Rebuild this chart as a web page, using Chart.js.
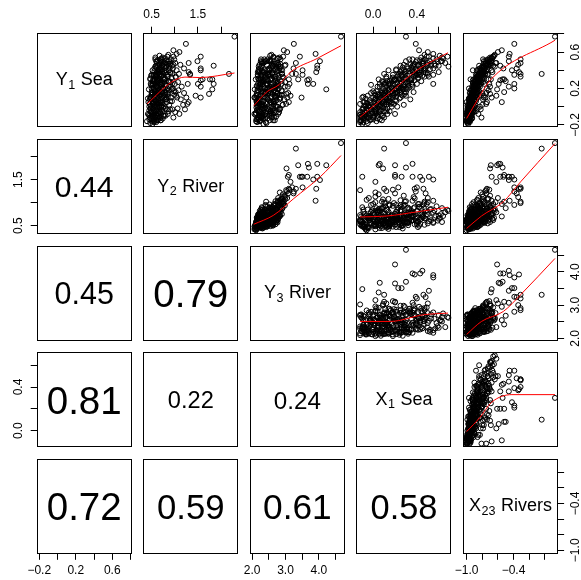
<!DOCTYPE html>
<html><head><meta charset="utf-8">
<script src="https://cdn.jsdelivr.net/npm/chart.js@4.4.1/dist/chart.umd.min.js"></script>
<style>html,body{margin:0;padding:0;background:#fff;}#wrap{position:relative;width:581px;height:580px;}canvas{position:absolute;left:0;top:0;}</style>
</head><body><div id="wrap"></div>
<script>
// ---- observations (one value per observation, same order in every array) ----
const Y1 = [-0.19,-0.17,-0.16,-0.15,-0.14,-0.13,-0.12,-0.12,-0.11,-0.10,
 -0.10,-0.09,-0.08,-0.08,-0.07,-0.06,-0.06,-0.05,-0.04,-0.04,
 -0.03,-0.02,-0.02,-0.01,0.00,0.00,0.01,0.02,0.02,0.03,
 0.04,0.05,0.05,0.06,0.07,0.08,0.08,0.09,0.10,0.10,
 0.11,0.12,0.12,0.13,0.14,0.14,0.15,0.16,0.16,0.17,
 0.18,0.18,0.19,0.20,0.20,0.21,0.22,0.22,0.23,0.24,
 0.25,0.25,0.26,0.27,0.28,0.28,0.29,0.30,0.31,0.31,
 0.32,0.33,0.34,0.35,0.35,0.36,0.37,0.38,0.39,0.40,
 0.41,0.42,0.43,0.44,0.45,0.46,0.47,0.48,0.50,0.51,
 0.53,0.55,0.05,0.30,0.40,0.20,-0.05,0.45,0.35,0.50,
 0.25,-0.10,0.15,0.10,-0.08,0.02,0.10,0.18,0.05,0.22,
 -0.03,0.36,0.77,0.19,0.45,0.42,0.50,0.38,0.30,0.25,
 0.40,0.35,0.30,0.14,0.55,0.48,0.42,0.69,0.62,0.58,
 0.29,0.22,0.10,0.03,0.25,0.44,0.38,0.50,0.33,0.36,
 0.16,0.20,0.05,-0.12,0.28,0.46,0.52,0.30,0.12,0.60,
 -0.18,-0.16,-0.15,-0.14,-0.13,-0.12,-0.11,-0.10,-0.09,-0.08,
 -0.07,-0.06,-0.05,-0.04,-0.03,-0.02,-0.01,0.00,0.01,0.02,
 0.03,0.04,0.05,0.06,0.07,0.08,0.09,0.10,0.11,0.12,
 0.13,0.14,0.15,0.16,0.17,0.18,0.19,0.20,0.21,0.22,
 0.23,0.24,0.25,0.26,0.27,0.28,0.29,0.30,0.31,0.32,
 0.33,0.34,0.35,0.36,0.37,0.38,0.39,0.40,0.41,0.42,
 0.43,0.44,0.46,0.47,0.49,0.50,0.52,0.54,0.56,0.48,
 0.10,0.00,0.20,0.15,0.30,-0.05,0.25,0.35,0.40,0.45,
 0.00,0.10,0.20,0.30,0.40,-0.10,0.05,0.15,0.25,0.35,
 0.52,0.57,0.45,0.54,0.48,-0.15,-0.08,0.02,0.08,-0.12,
 0.08,0.15,-0.02,0.25,0.12,
 -0.17,-0.14,-0.12,-0.10,-0.09,-0.07,-0.06,-0.05,-0.03,-0.02,
 0.00,0.01,0.03,0.04,0.06,0.07,0.09,0.10,0.12,0.13,
 0.15,0.16,0.18,0.19,0.21,0.22,0.24,0.25,0.27,0.28,
 0.30,0.31,0.33,0.34,0.36,0.37,0.39,0.41,0.42,0.44,
 0.46,0.47,0.49,0.51,0.53,-0.15,-0.11,-0.08,-0.04,-0.01,
 0.02,0.05,0.08,0.11,0.14,0.17,0.20,0.23,0.26,0.29,
 0.32,0.35,0.38,0.41,0.44,0.47,0.50,0.13,0.27,0.06,
 -0.06,0.36,0.19,0.09,0.31,-0.13,0.00,0.16,0.33,0.45,
 0.55,0.40,0.24,0.52,0.11,-0.16,-0.10,0.04,0.21,0.38,
 0.28,0.46,0.14,-0.02,0.34];
const Y2 = [0.52,0.60,0.40,0.70,0.55,0.48,0.66,0.58,0.50,0.75,
 0.62,0.53,0.42,0.85,0.57,0.68,0.49,0.61,0.72,0.54,
 0.95,0.63,0.47,0.59,0.78,0.51,0.66,0.56,0.88,0.46,
 0.69,0.60,0.73,0.52,0.64,0.82,0.55,0.71,0.49,0.92,
 0.62,0.58,0.76,0.67,0.53,0.84,0.61,0.70,0.50,0.98,
 0.65,0.57,0.80,0.63,0.74,0.55,0.68,0.89,0.59,0.72,
 0.52,0.94,0.66,0.77,0.60,0.86,0.69,0.56,0.79,0.64,
 1.02,0.71,0.58,0.83,0.67,0.75,0.91,0.62,0.73,0.87,
 0.65,0.96,0.70,0.81,0.59,0.74,0.90,0.68,0.85,0.63,
 0.78,0.97,0.64,0.61,0.69,0.75,0.66,0.72,0.58,0.88,
 0.53,0.57,0.80,1.05,1.10,1.18,1.25,1.08,1.30,1.15,
 1.22,2.17,2.29,1.81,1.84,1.56,1.49,1.30,1.76,1.84,
 1.56,1.33,1.81,1.74,1.56,1.30,1.20,1.24,0.97,1.04,
 1.56,1.56,1.56,1.27,1.50,0.82,0.65,0.75,1.02,1.33,
 1.02,0.95,0.70,0.62,0.88,1.12,0.99,1.60,1.45,1.10,
 0.47,0.56,0.63,0.45,0.51,0.69,0.58,0.80,0.44,0.65,
 0.54,0.73,0.49,0.60,0.90,0.52,0.67,0.57,0.48,0.74,
 0.61,0.53,0.83,0.59,0.70,0.46,0.64,0.77,0.55,0.68,
 0.51,0.86,0.62,0.72,0.57,0.66,0.93,0.54,0.75,0.60,
 0.81,0.49,0.69,0.58,0.88,0.63,0.53,0.76,0.67,0.59,
 0.84,0.71,0.62,0.95,0.65,0.73,0.56,0.80,0.68,0.89,
 0.61,0.77,0.66,0.83,0.70,0.60,0.92,0.74,0.67,0.79,
 0.82,0.71,0.96,0.64,0.78,0.87,1.00,0.55,1.04,0.62,
 0.45,0.48,0.50,0.47,0.52,0.46,0.43,0.50,0.56,0.50,
 0.70,0.86,0.94,0.58,1.01,0.61,0.70,0.57,0.79,0.97,
 1.13,1.20,1.06,1.28,1.03,
 0.55,0.64,0.46,0.77,0.59,0.50,0.68,0.57,0.83,0.48,
 0.62,0.71,0.53,0.66,0.90,0.58,0.49,0.73,0.61,0.79,
 0.52,0.66,0.87,0.55,0.70,0.62,0.78,0.48,0.91,0.65,
 0.57,0.74,0.85,0.60,0.69,0.80,0.63,0.72,0.56,0.88,
 0.67,0.76,0.61,0.82,0.71,0.69,0.52,0.60,0.45,0.75,
 0.64,0.56,0.81,0.47,0.68,0.59,0.84,0.51,0.73,0.62,
 0.93,0.54,0.77,0.66,0.58,0.86,0.69,0.99,1.07,0.94,
 1.01,1.09,0.44,0.42,0.47,0.74,0.66,0.79,0.60,0.72,
 0.84,0.64,0.71,0.58,0.85,0.50,0.53,0.72,0.64,0.90,
 0.53,0.97,0.57,0.80,0.49];
const Y3 = [2.34,2.15,2.12,2.63,2.13,2.39,2.17,2.60,2.27,2.24,
 2.52,2.10,2.07,2.32,2.56,2.25,2.20,2.56,2.20,2.62,
 2.80,2.63,2.33,2.13,2.28,2.63,2.37,2.14,2.91,2.21,
 2.16,2.65,2.56,2.34,2.15,2.23,2.47,2.84,2.08,2.41,
 2.37,2.12,2.75,2.14,2.60,2.76,2.41,2.33,2.32,2.89,
 2.66,2.16,2.26,2.38,2.62,2.48,2.15,2.52,2.73,2.25,
 2.24,2.89,2.72,2.27,2.30,2.88,2.21,2.54,2.59,2.20,
 2.94,2.69,2.27,2.29,2.54,2.89,2.60,2.17,2.21,2.90,
 2.46,2.52,2.73,2.62,2.63,2.22,2.84,2.30,2.26,2.54,
 2.78,2.93,2.20,2.46,2.81,2.29,2.47,2.70,2.17,2.51,
 2.45,2.21,2.49,2.85,2.78,2.92,3.05,2.88,3.10,2.98,
 2.83,3.31,4.66,4.22,3.95,3.95,4.03,3.92,3.70,3.67,
 3.51,3.51,3.38,3.03,3.43,3.31,3.24,3.25,2.95,3.90,
 3.65,3.07,3.48,3.02,3.83,2.62,2.32,2.55,2.91,3.20,
 2.42,2.80,2.55,2.30,2.68,3.00,2.85,3.10,3.15,3.05,
 2.43,2.24,2.68,2.15,2.33,2.21,2.72,2.31,2.31,2.41,
 2.12,2.71,2.55,2.15,2.29,2.44,2.54,2.76,2.19,2.22,
 2.66,2.40,2.64,2.13,2.73,2.26,2.20,2.72,2.58,2.25,
 2.18,2.38,2.77,2.55,2.51,2.18,2.77,2.37,2.19,2.70,
 2.77,2.45,2.26,2.27,2.31,2.48,2.70,2.25,2.74,2.38,
 2.41,2.79,2.37,2.40,2.61,2.21,2.29,2.86,2.20,2.82,
 2.56,2.27,2.78,2.59,2.28,2.40,2.46,2.82,2.54,2.34,
 2.45,2.72,2.69,2.56,2.41,2.55,2.78,2.47,2.77,2.60,
 2.32,2.07,2.45,2.11,2.52,2.24,2.14,2.40,2.18,2.62,
 2.37,2.58,2.98,2.64,2.76,2.24,2.53,2.31,2.82,2.66,
 2.96,3.08,2.84,3.12,2.70,
 2.41,2.19,2.27,2.58,2.36,2.11,2.65,2.23,2.49,2.38,
 2.16,2.70,2.29,2.44,2.62,2.51,2.18,2.35,2.68,2.82,
 2.14,2.40,2.58,2.46,2.22,2.63,2.47,2.31,2.77,2.34,
 2.55,2.18,2.71,2.42,2.60,2.32,2.76,2.50,2.25,2.85,
 2.44,2.66,2.37,2.59,2.75,2.52,2.30,2.61,2.15,2.39,
 2.27,2.57,2.46,2.21,2.74,2.33,2.54,2.14,2.63,2.28,
 2.80,2.48,2.35,2.69,2.20,2.72,2.43,2.88,2.99,2.67,
 2.81,2.90,2.08,2.12,2.26,2.46,2.59,2.41,2.53,2.30,
 2.64,2.38,2.56,2.27,2.68,2.22,2.45,2.19,2.71,2.61,
 2.36,2.79,2.49,2.34,2.18];
const X1 = [-0.10,-0.12,-0.06,-0.11,-0.02,-0.09,-0.04,-0.10,0.00,-0.08,
 -0.03,-0.12,0.02,-0.05,-0.07,0.05,-0.10,0.01,-0.06,0.07,
 -0.02,0.04,-0.09,0.09,0.00,0.06,-0.04,0.10,0.03,-0.05,
 0.08,0.12,0.01,0.05,0.14,0.02,0.09,0.16,0.07,0.11,
 0.04,0.18,0.10,0.06,0.20,0.13,0.08,0.22,0.15,0.11,
 0.19,0.24,0.14,0.21,0.17,0.26,0.12,0.23,0.18,0.28,
 0.20,0.15,0.30,0.22,0.25,0.33,0.19,0.27,0.35,0.24,
 0.29,0.37,0.31,0.26,0.40,0.33,0.42,0.36,0.30,0.44,
 0.39,0.46,0.35,0.48,0.41,0.50,0.38,0.45,0.52,0.43,
 0.55,0.49,-0.08,0.17,0.28,0.30,0.12,0.60,0.55,0.63,
 0.40,0.08,-0.02,0.25,-0.04,0.05,0.12,0.14,0.10,0.28,
 0.02,0.10,0.30,0.20,0.36,0.43,0.45,0.38,0.30,0.06,
 0.26,0.23,0.05,0.09,0.51,0.46,0.48,0.39,0.42,0.55,
 0.20,0.36,-0.10,-0.12,0.55,0.69,0.60,0.62,0.47,0.40,
 0.08,0.21,-0.09,-0.12,0.08,0.37,0.47,0.20,0.02,0.50,
 -0.05,0.03,-0.12,0.06,-0.08,0.10,-0.11,0.04,-0.07,0.13,
 -0.01,-0.12,0.15,0.02,-0.10,0.11,-0.03,0.17,-0.08,0.07,
 0.19,-0.06,0.04,0.21,-0.03,0.12,0.24,0.00,0.15,-0.05,
 0.26,0.05,0.18,0.30,0.03,0.14,0.28,0.09,0.33,0.06,
 0.25,0.11,0.35,0.16,0.31,0.13,0.38,0.20,0.12,0.41,
 0.22,0.45,0.18,0.29,0.48,0.25,0.40,0.21,0.52,0.32,
 0.27,0.43,0.34,0.56,0.39,0.30,0.58,0.44,0.61,0.66,
 0.05,-0.04,0.15,0.22,0.35,0.06,0.10,0.50,0.36,0.53,
 0.08,0.18,0.27,0.24,0.47,-0.06,0.14,0.01,0.32,0.42,
 0.36,0.47,0.25,0.63,0.50,0.08,0.20,0.28,0.34,0.00,
 0.02,0.20,-0.06,0.18,0.30,
 -0.09,0.00,-0.05,0.09,-0.12,0.03,-0.08,0.10,-0.01,0.13,
 -0.07,0.06,0.16,-0.02,0.09,0.20,0.02,0.14,0.27,0.04,
 0.11,0.25,0.08,0.31,0.17,0.04,0.36,0.14,0.26,0.44,
 0.19,0.30,0.12,0.39,0.24,0.50,0.33,0.21,0.55,0.37,
 0.28,0.45,0.59,0.40,0.64,-0.03,-0.10,0.07,-0.04,0.01,
 0.12,-0.03,0.06,0.21,0.10,0.00,0.25,0.32,0.11,0.35,
 0.18,0.43,0.29,0.47,0.31,0.53,0.46,0.19,0.09,0.15,
 0.02,0.38,0.27,-0.07,0.41,0.04,0.22,0.37,0.51,0.57,
 0.68,0.14,-0.02,0.33,-0.09,-0.11,0.01,0.17,0.23,0.42,
 0.15,0.41,0.29,-0.09,0.26];
const X23 = [-0.98,-0.99,-1.00,-0.95,-0.97,-0.99,-0.96,-0.98,-0.94,-0.97,
 -0.99,-0.96,-0.98,-0.93,-1.00,-0.95,-0.97,-0.92,-0.98,-0.96,
 -0.90,-0.94,-0.99,-0.93,-0.95,-0.97,-0.91,-0.95,-0.89,-0.98,
 -0.92,-0.94,-0.96,-0.90,-0.93,-0.88,-0.95,-0.91,-0.94,-0.86,
 -0.92,-0.89,-0.93,-0.87,-0.92,-0.90,-0.88,-0.91,-0.86,-0.84,
 -0.89,-0.93,-0.87,-0.85,-0.90,-0.88,-0.83,-0.86,-0.90,-0.84,
 -0.87,-0.82,-0.85,-0.81,-0.86,-0.83,-0.88,-0.80,-0.84,-0.78,
 -0.79,-0.82,-0.85,-0.77,-0.81,-0.76,-0.80,-0.83,-0.75,-0.78,
 -0.74,-0.77,-0.80,-0.72,-0.76,-0.73,-0.70,-0.75,-0.69,-0.72,
 -0.67,-0.66,-1.00,-0.95,-0.92,-0.97,-0.92,-0.84,-0.88,-0.69,
 -0.90,-0.94,-0.96,-0.87,-0.85,-0.80,-0.76,-0.72,-0.74,-0.70,
 -0.82,-0.04,0.13,-0.61,-0.57,-0.53,-0.46,-0.33,-0.54,-0.59,
 -0.42,-0.39,-0.69,-0.70,-0.46,-0.31,-0.36,-0.39,-0.55,-0.45,
 -0.57,-0.46,-0.68,-0.75,-0.39,-0.64,-0.67,-0.69,-0.31,-0.31,
 -0.52,-0.39,-0.55,-0.81,-0.50,-0.34,-0.31,-0.52,-0.62,-0.60,
 -0.99,-0.97,-1.00,-0.95,-0.98,-0.96,-0.99,-0.94,-0.97,-0.98,
 -0.93,-0.99,-0.95,-0.97,-0.96,-0.92,-0.98,-0.94,-0.99,-0.93,
 -0.96,-0.91,-0.95,-0.97,-0.90,-0.94,-0.92,-0.96,-0.89,-0.93,
 -0.91,-0.94,-0.87,-0.92,-0.90,-0.95,-0.86,-0.91,-0.88,-0.93,
 -0.85,-0.90,-0.87,-0.92,-0.84,-0.89,-0.86,-0.91,-0.83,-0.88,
 -0.85,-0.80,-0.87,-0.82,-0.84,-0.79,-0.86,-0.81,-0.77,-0.83,
 -0.78,-0.80,-0.74,-0.76,-0.71,-0.78,-0.70,-0.68,-0.65,-0.62,
 -0.78,-0.83,-0.74,-0.80,-0.72,-0.88,-0.77,-0.73,-0.68,-0.66,
 -0.96,-0.93,-0.89,-0.86,-0.82,-0.98,-0.95,-0.91,-0.88,-0.84,
 -0.73,-0.64,-0.69,-0.70,-0.63,-0.97,-0.94,-0.92,-0.90,-0.93,
 -0.79,-0.75,-0.86,-0.71,-0.78,
 -0.96,-0.99,-0.97,-0.95,-1.00,-0.96,-0.94,-0.99,-0.93,-0.97,
 -0.95,-0.98,-0.92,-0.96,-0.94,-0.90,-0.97,-0.92,-0.95,-0.89,
 -0.93,-0.91,-0.94,-0.87,-0.90,-0.92,-0.86,-0.89,-0.85,-0.90,
 -0.84,-0.88,-0.83,-0.86,-0.81,-0.84,-0.79,-0.85,-0.77,-0.80,
 -0.75,-0.78,-0.72,-0.74,-0.68,-0.98,-0.95,-0.97,-0.99,-0.94,
 -0.96,-0.93,-0.97,-0.90,-0.94,-0.92,-0.88,-0.91,-0.87,-0.92,
 -0.82,-0.85,-0.80,-0.82,-0.78,-0.74,-0.76,-0.83,-0.79,-0.88,
 -0.91,-0.73,-0.92,-0.97,-0.87,-0.93,-0.90,-0.86,-0.81,-0.73,
 -0.66,-0.87,-0.91,-0.79,-0.95,-0.99,-0.98,-0.94,-0.89,-0.77,
 -0.88,-0.71,-0.93,-0.96,-0.85];

// ---- variable names (diagonal), with subscripts ----
const labelBase = ['Y','Y','Y','X','X'];
const labelSub  = ['1','2','3','1','23'];
const labelRest = [' Sea',' River',' River',' Sea',' Rivers'];

// ---- correlations shown in the lower panels (row, col) ----
const corrRows = [1,2,2,3,3,3,4,4,4,4];
const corrCols = [0,0,1,0,1,2,0,1,2,3];
const corrValues = ['0.44','0.45','0.79','0.81','0.22','0.24','0.72','0.59','0.61','0.58'];

// ---- axis ranges and ticks per variable ----
const axisMin = [-0.228, 0.320, 1.935, -0.153, -1.045];
const axisMax = [0.813, 2.372, 4.777, 0.717, 0.170];
const ticksY1 = [-0.2,0.0,0.2,0.4,0.6,0.8];   const tickLabelsY1 = ['\u22120.2','','0.2','','0.6',''];
const ticksY2 = [0.5,1.0,1.5,2.0];             const tickLabelsY2 = ['0.5','','1.5',''];
const ticksY3 = [2.0,2.5,3.0,3.5,4.0,4.5];     const tickLabelsY3 = ['2.0','','3.0','','4.0',''];
const ticksX1 = [0.0,0.2,0.4,0.6];             const tickLabelsX1 = ['0.0','','0.4',''];
const ticksX23 = [-1.0,-0.8,-0.6,-0.4,-0.2,0.0]; const tickLabelsX23 = ['\u22121.0','','','\u22120.4','',''];

// ---- smooth (loess) lines: [x, y] ----
const fitY1onY2  = [[0.40,0.03],[0.93,0.27],[1.22,0.325],[1.54,0.32],[2.29,0.37]];
const fitY1onY3  = [[2.05,0.01],[2.45,0.165],[2.80,0.24],[3.15,0.38],[3.95,0.53],[4.66,0.67]];
const fitY1onX1  = [[-0.12,-0.114],[0.15,0.15],[0.40,0.40],[0.685,0.593]];
const fitY1onX23 = [[-1.0,-0.13],[-0.85,0.09],[-0.70,0.29],[0.13,0.73]];
const fitY2onY3  = [[2.05,0.53],[2.65,0.73],[3.25,1.09],[4.04,1.56],[4.66,2.02]];
const fitY2onX1  = [[-0.12,0.69],[0.126,0.71],[0.40,0.80],[0.685,0.90]];
const fitY2onX23 = [[-1.0,0.44],[-0.81,0.71],[-0.53,1.02],[-0.31,1.45],[0.13,2.28]];
const fitY3onX1  = [[-0.12,2.51],[0.156,2.51],[0.46,2.71],[0.685,2.76]];
const fitY3onX23 = [[-1.0,2.12],[-0.81,2.51],[-0.53,2.81],[-0.31,3.31],[0.13,4.40]];
const fitX1onX23 = [[-1.0,-0.01],[-0.83,0.12],[-0.68,0.26],[-0.42,0.33],[0.13,0.33]];

// ---- assembly ----
const vars = [Y1, Y2, Y3, X1, X23];
const tickVals = [ticksY1, ticksY2, ticksY3, ticksX1, ticksX23];
const tickLabs = [tickLabelsY1, tickLabelsY2, tickLabelsY3, tickLabelsX1, tickLabelsX23];
const fits = {
  '0-1': fitY1onY2, '0-2': fitY1onY3, '0-3': fitY1onX1, '0-4': fitY1onX23,
  '1-2': fitY2onY3, '1-3': fitY2onX1, '1-4': fitY2onX23,
  '2-3': fitY3onX1, '2-4': fitY3onX23, '3-4': fitX1onX23
};

const FAM = '"Liberation Sans", Arial, Helvetica, sans-serif';
const W = 581, H = 580;
const L0 = 36.7, T0 = 32.7, STEP = 106.6, PW = 95, PH = 94.7;

function drawVarLabel(ctx, cx, cy, i) {
  const fs = 18, sfs = fs * 0.7;
  const f = fs + 'px ' + FAM, sf = sfs + 'px ' + FAM;
  ctx.font = f; const w1 = ctx.measureText(labelBase[i]).width;
  ctx.font = sf; const w2 = ctx.measureText(labelSub[i]).width;
  ctx.font = f; const w3 = ctx.measureText(labelRest[i]).width;
  const total = w1 + w2 + w3 + 1;
  let x = cx - total / 2;
  const base = cy + 0.358 * fs - 1.5;
  ctx.textAlign = 'left'; ctx.textBaseline = 'alphabetic'; ctx.fillStyle = '#000';
  ctx.font = f; ctx.fillText(labelBase[i], x, base); x += w1 + 0.5;
  ctx.font = sf; ctx.fillText(labelSub[i], x, base + 0.2 * fs); x += w2 + 0.5;
  ctx.font = f; ctx.fillText(labelRest[i], x, base);
}

const panelPlugin = {
  id: 'panel',
  afterDraw(chart, args, o) {
    const ctx = chart.ctx, a = chart.chartArea;
    ctx.save();
    ctx.strokeStyle = '#000'; ctx.lineWidth = 1;
    const x0 = Math.round(a.left) + 0.5, y0 = Math.round(a.top) + 0.5;
    const x1 = Math.round(a.right) - 0.5, y1 = Math.round(a.bottom) - 0.5;
    ctx.strokeRect(x0, y0, x1 - x0, y1 - y0);
    const cx = (a.left + a.right) / 2, cy = (a.top + a.bottom) / 2;
    if (o.r === o.c) drawVarLabel(ctx, cx, cy, o.r);
    if (o.corr) {
      const size = Math.min(38.5, 17 + 30 * parseFloat(o.corr));
      ctx.font = size.toFixed(1) + 'px ' + FAM;
      ctx.fillStyle = '#000'; ctx.textAlign = 'center'; ctx.textBaseline = 'alphabetic';
      ctx.fillText(o.corr, cx, cy + 0.358 * size);
    }
    ctx.font = '12px ' + FAM; ctx.fillStyle = '#000';
    ctx.textAlign = 'center'; ctx.textBaseline = 'middle';
    if (o.showY) {
      const ys = chart.scales.y;
      const xc = o.yPos === 'left' ? a.left - 17.7 : a.right + 17.5;
      tickVals[o.r].forEach((v, i) => {
        const lab = tickLabs[o.r][i];
        if (!lab) return;
        const py = ys.getPixelForValue(v);
        ctx.save(); ctx.translate(xc, py); ctx.rotate(-Math.PI / 2);
        ctx.fillText(lab, 0, 0); ctx.restore();
      });
    }
    if (o.showX) {
      const xs = chart.scales.x;
      const yc = o.xPos === 'top' ? a.top - 17.7 : a.bottom + 17.3;
      tickVals[o.c].forEach((v, i) => {
        const lab = tickLabs[o.c][i];
        if (!lab) return;
        ctx.fillText(lab, xs.getPixelForValue(v), yc);
      });
    }
    ctx.restore();
  }
};

const wrap = document.getElementById('wrap');
for (let r = 0; r < 5; r++) {
  for (let c = 0; c < 5; c++) {
    const left = L0 + STEP * c, top = T0 + STEP * r;
    const showX = (r === 0 && c % 2 === 1) || (r === 4 && c % 2 === 0);
    const xPos = r === 0 ? 'top' : 'bottom';
    const showY = (c === 4 && r % 2 === 0) || (c === 0 && r % 2 === 1);
    const yPos = c === 4 ? 'right' : 'left';
    const datasets = [];
    if (c > r) {
      const xs = vars[c], ys = vars[r];
      datasets.push({
        type: 'line', data: fits[r + '-' + c].map(p => ({x: p[0], y: p[1]})),
        borderColor: '#ff0000', borderWidth: 1, pointRadius: 0, fill: false,
        cubicInterpolationMode: 'monotone', order: 0
      });
      datasets.push({
        type: 'scatter', data: xs.map((v, i) => ({x: v, y: ys[i]})),
        pointRadius: 2.5, borderWidth: 1, borderColor: '#000',
        backgroundColor: 'rgba(0,0,0,0)', pointStyle: 'circle', order: 1
      });
    }
    let corr = null;
    for (let k = 0; k < corrValues.length; k++) if (corrRows[k] === r && corrCols[k] === c) corr = corrValues[k];
    const cv = document.createElement('canvas');
    cv.width = W; cv.height = H; cv.style.width = W + 'px'; cv.style.height = H + 'px';
    wrap.appendChild(cv);
    new Chart(cv, {
      type: 'scatter',
      data: {datasets},
      options: {
        responsive: false, animation: false, devicePixelRatio: 1, events: [],
        layout: {padding: {left: left, top: top, right: W - left - PW, bottom: H - top - PH}},
        plugins: {legend: {display: false}, tooltip: {enabled: false},
          panel: {r, c, corr, showY, yPos, showX, xPos}},
        scales: {
          x: {
            type: 'linear', position: xPos, min: axisMin[c], max: axisMax[c], bounds: 'data',
            afterBuildTicks: s => { s.ticks = tickVals[c].map(v => ({value: v})); },
            afterFit: s => { s.height = 0; },
            grid: {display: showX, drawOnChartArea: false, drawTicks: true, tickLength: 6, color: '#000', lineWidth: 1},
            border: {display: false},
            ticks: {display: false}
          },
          y: {
            type: 'linear', position: yPos, min: axisMin[r], max: axisMax[r], bounds: 'data',
            afterBuildTicks: s => { s.ticks = tickVals[r].map(v => ({value: v})); },
            afterFit: s => { s.width = 0; },
            grid: {display: showY, drawOnChartArea: false, drawTicks: true, tickLength: 6, color: '#000', lineWidth: 1},
            border: {display: false},
            ticks: {display: false}
          }
        }
      },
      plugins: [panelPlugin]
    });
  }
}
</script>
</body></html>
